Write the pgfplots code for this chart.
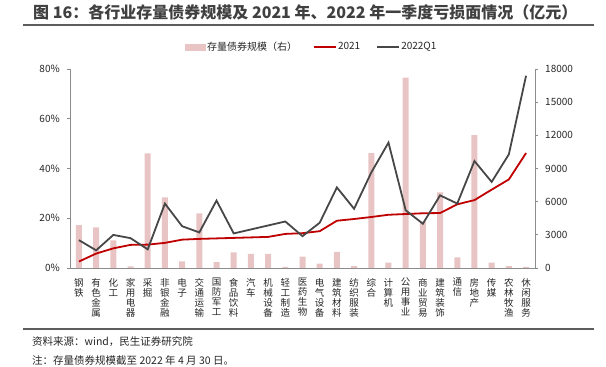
\documentclass[border=0pt]{standalone}
\usepackage{pgfplots}
\pgfplotsset{compat=1.18}
\usepackage{pgfplotstable}
\usepackage{fontspec}
\setmainfont{Noto Sans CJK SC}
\definecolor{barpink}{HTML}{E8C4C4}
\definecolor{redline}{HTML}{C00000}
\definecolor{grayline}{HTML}{474747}
\definecolor{axisgray}{HTML}{8C8C8C}
\definecolor{titlegray}{HTML}{404040}
\definecolor{txt}{HTML}{262626}

\pgfplotstableread{
idx bond r2021 q2022
0 3880 2.6 11.2
1 3670 5.8 7.1
2 2490 7.9 13.3
3 150 9.3 12.0
4 10360 9.4 7.5
5 6390 10.1 25.9
6 610 11.4 16.8
7 4940 11.7 14.3
8 520 11.9 27.1
9 1420 12.1 13.9
10 1270 12.3 15.5
11 1270 12.5 17.1
12 100 13.7 18.7
13 1030 14.0 12.8
14 390 14.8 18.2
15 1460 19.0 32.4
16 180 19.7 23.8
17 10390 20.5 38.4
18 490 21.4 50.4
19 17210 21.7 23.2
20 4200 22.0 17.8
21 6850 22.1 29.2
22 970 25.6 25.9
23 12030 27.3 43.0
24 490 31.5 34.6
25 180 35.6 45.7
26 100 46.2 77.3
}\data

\begin{document}
\begin{tikzpicture}
\useasboundingbox (0pt,0pt) rectangle (606pt,367pt);
\node[anchor=west, inner sep=0pt, font=\fontsize{16}{19}\selectfont\bfseries, text=titlegray] at (33pt,354.7pt) {图 16：各行业存量债券规模及 2021 年、2022 年一季度亏损面情况（亿元）};
\draw[color=titlegray!85, line width=1.3pt] (23pt,342pt) -- (594pt,342pt);
\draw[color=titlegray!85, line width=1.3pt] (23pt,38pt) -- (594pt,38pt);
\node[anchor=west, inner sep=0pt, font=\fontsize{10.5}{12}\selectfont, text=txt] at (32pt,25.3pt) {资料来源：wind，民生证券研究院};
\node[anchor=west, inner sep=0pt, font=\fontsize{10.5}{12}\selectfont, text=txt] at (32pt,7pt) {注：存量债券规模截至 2022 年 4 月 30 日。};

% bars, right axis
\begin{axis}[
  at={(70pt,99pt)}, anchor=south west, scale only axis,
  width=465pt, height=199pt,
  xmin=-0.52, xmax=26.52, ymin=0, ymax=18000,
  axis x line=none,
  axis y line*=right,
  y axis line style={draw=axisgray, line width=0.8pt},
  ytick={0,3000,6000,9000,12000,15000,18000},
  scaled y ticks=false,
  tick align=outside, major tick length=3pt,
  tick style={draw=axisgray, line width=0.8pt},
  /pgf/number format/assume math mode=true,
  /pgf/number format/1000 sep={},
  yticklabel style={font=\fontsize{10}{12}\selectfont, text=txt, inner sep=0pt, xshift=7pt},
  clip=false,
]
\addplot[ybar, bar width=6pt, fill=barpink, draw=none] table[x=idx, y=bond] {\data};
\end{axis}

% lines, left axis
\begin{axis}[
  at={(70pt,99pt)}, anchor=south west, scale only axis,
  width=465pt, height=199pt,
  xmin=-0.52, xmax=26.52, ymin=0, ymax=80,
  axis y line*=left,
  axis x line*=bottom,
  x axis line style={draw=axisgray, line width=0.8pt, -},
  y axis line style={draw=axisgray, line width=0.8pt, -},
  ytick={0,20,40,60,80},
  yticklabel={\pgfmathprintnumber{\tick}\%},
  tick align=outside, major tick length=3pt,
  tick style={draw=axisgray, line width=0.8pt},
  xtick={0,...,26},
  x tick style={draw=none},
  xticklabels={{钢\\铁},{有\\色\\金\\属},{化\\工},{家\\用\\电\\器},{采\\掘},{非\\银\\金\\融},{电\\子},{交\\通\\运\\输},{国\\防\\军\\工},{食\\品\\饮\\料},{汽\\车},{机\\械\\设\\备},{轻\\工\\制\\造},{医\\药\\生\\物},{电\\气\\设\\备},{建\\筑\\材\\料},{纺\\织\\服\\装},{综\\合},{计\\算\\机},{公\\用\\事\\业},{商\\业\\贸\\易},{建\\筑\\装\\饰},{通\\信},{房\\地\\产},{传\\媒},{农\\林\\牧\\渔},{休\\闲\\服\\务}},
  xticklabel style={font=\fontsize{9.5}{10}\selectfont, text=txt, align=center, anchor=north, inner sep=0pt, yshift=-7pt},
  /pgf/number format/assume math mode=true,
  yticklabel style={font=\fontsize{10}{12}\selectfont, text=txt, inner sep=0pt, xshift=-7pt},
  legend columns=3,
  legend style={at={(0.2473,1.1106)}, anchor=west, draw=none, fill=none, inner sep=0pt,
    font=\fontsize{10}{12}\selectfont, text=txt,
    /tikz/every even column/.append style={column sep=14pt},
    nodes={inner sep=1.5pt}},
  legend image code/.code={\draw[#1, line width=2pt] (0pt,0pt) -- (22pt,0pt);},
  clip=false,
]
\addlegendimage{legend image code/.code={\fill[barpink] (0pt,-3pt) rectangle (20pt,3pt);}}
\addlegendentry{存量债券规模（右）}
\addplot[redline, line width=1.8pt, no marks] table[x=idx, y=r2021] {\data};
\addlegendentry{2021}
\addplot[grayline, line width=1.8pt, no marks] table[x=idx, y=q2022] {\data};
\addlegendentry{2022Q1}
\end{axis}
\end{tikzpicture}
\end{document}
